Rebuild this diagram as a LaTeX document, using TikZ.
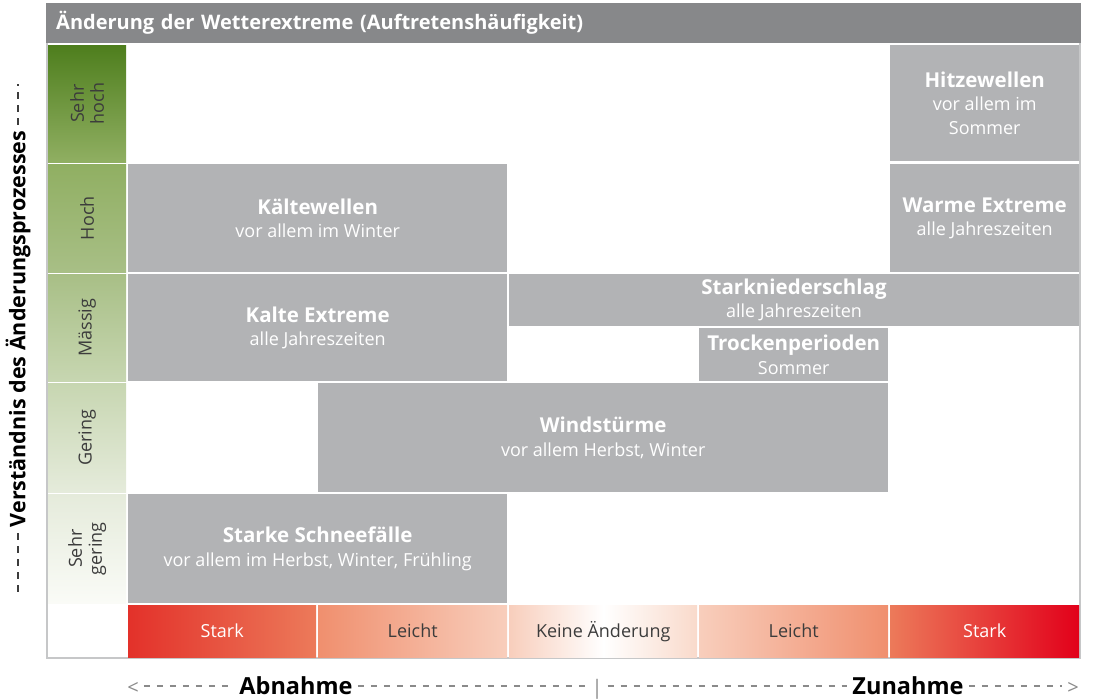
\documentclass[tikz,border=0pt]{standalone}
\usepackage{fontspec}
\setmainfont{Open Sans}
\usepackage{tikz}
\usetikzlibrary{calc}
\definecolor{boxgray}{HTML}{B2B3B5}
\definecolor{titlegray}{HTML}{87888A}
\definecolor{framegray}{HTML}{C6C7C8}
\definecolor{dashgray}{HTML}{8A8A8A}
\definecolor{labeltext}{HTML}{3C3C3C}
\definecolor{redfull}{HTML}{E3312A}
\definecolor{redend}{HTML}{E2001A}
\definecolor{salmon}{HTML}{EC7A5A}
\definecolor{salmonlight}{HTML}{F08F6E}
\definecolor{peach}{HTML}{F8CEBC}
\definecolor{peachlight}{HTML}{F9DACB}
\definecolor{greenA}{HTML}{4E7E1D}
\definecolor{greenB}{HTML}{90AF62}
\definecolor{greenC}{HTML}{A8BF86}
\definecolor{greenD}{HTML}{C7D6B1}
\definecolor{greenE}{HTML}{E5EBDB}
\definecolor{greenF}{HTML}{FAFBF7}
\tikzstyle{event}    = [rectangle, fill=boxgray, anchor=north west, inner sep=0pt, align=center, text=white, font=\fontsize{18}{23.5}\selectfont]
\tikzstyle{level}    = [rectangle, anchor=north west, inner sep=0pt, minimum width=78pt]
\tikzstyle{dashline} = [draw=dashgray, line width=1.4pt, dash pattern=on 6.5pt off 6.5pt]
\newcommand{\headline}[1]{{\bfseries\fontsize{20.5}{23.5}\selectfont #1}}

\begin{document}
\begin{tikzpicture}[
    x=1pt, y=-1pt,
    rowlabel/.style={rotate=90, text=labeltext, align=center, font=\fontsize{18}{20}\selectfont},
    scalecell/.style={rectangle, anchor=north west, inner sep=0pt, minimum height=52pt, font=\fontsize{18}{20}\selectfont},
    axis/.style={text=dashgray, inner xsep=5pt, text height=17pt, text depth=1pt, font=\fontsize{20}{22}\selectfont},
    axisword/.style={axis, text=black, font=\bfseries\fontsize{23.5}{26}\selectfont},
  ]
  \useasboundingbox (0,0) rectangle (1099,700);
  % frame and title bar
  \draw[framegray, line width=2pt] (47,4) rectangle (1080,658);
  \node[rectangle, fill=titlegray, anchor=north west, inner xsep=10pt, inner ysep=0pt,
        text width=1015pt, minimum height=40pt, align=left, text=white,
        font=\bfseries\fontsize{20}{22}\selectfont] (title) at (46,3)
        {Änderung der Wetterextreme (Auftretenshäufigkeit)};

  % understanding levels
  \node[level, top color=greenA, bottom color=greenB, minimum height=117pt] (sehrhoch) at (48,45) {};
  \node[level, top color=greenB, bottom color=greenC, minimum height=108pt] (hoch) at (48,164) {};
  \node[level, top color=greenC, bottom color=greenD, minimum height=107pt] (maessig) at (48,274) {};
  \node[level, top color=greenD, bottom color=greenE, minimum height=109pt] (gering) at (48,383) {};
  \node[level, top color=greenE, bottom color=greenF, minimum height=109pt] (sehrgering) at (48,494) {};
  \node[rowlabel] at (sehrhoch.center) {Sehr\\hoch};
  \node[rowlabel] at (hoch.center) {Hoch};
  \node[rowlabel] at (maessig.center) {Mässig};
  \node[rowlabel] at (gering.center) {Gering};
  \node[rowlabel] at (sehrgering.center) {Sehr\\gering};

  % weather extremes
  \node[event, minimum width=189pt, minimum height=116pt] (hitze) at (890,45)
    {\headline{Hitzewellen}\\vor allem im\\Sommer};
  \node[event, minimum width=189pt, minimum height=108pt] (warm) at (890,164)
    {\headline{Warme Extreme}\\alle Jahreszeiten};
  \node[event, minimum width=379pt, minimum height=108pt] (kaeltew) at (128,164)
    {\headline{Kältewellen}\\vor allem im Winter};
  \node[event, minimum width=379pt, minimum height=107pt] (kalt) at (128,274)
    {\headline{Kalte Extreme}\\alle Jahreszeiten};
  \node[event, minimum width=570pt, minimum height=52pt] (niederschlag) at (509,274) {};
  \node[event, anchor=center] at (794,300)
    {\headline{Starkniederschlag}\\alle Jahreszeiten};
  \node[event, minimum width=189pt, minimum height=53pt] (trocken) at (699,328)
    {\headline{Trockenperioden}\\Sommer};
  \node[event, minimum width=570pt, minimum height=109pt] (wind) at (318,383)
    {\headline{Windstürme}\\vor allem Herbst, Winter};
  \node[event, minimum width=379pt, minimum height=109pt] (schnee) at (128,494)
    {\headline{Starke Schneefälle}\\vor allem im Herbst, Winter, Frühling};

  % change scale
  \node[scalecell, minimum width=188pt, left color=redfull, right color=salmon, text=white] (abstark) at (128,605) {Stark};
  \node[scalecell, minimum width=189pt, left color=salmonlight, right color=peach, text=labeltext] (ableicht) at (318,605) {Leicht};
  \node[scalecell, minimum width=188pt, left color=peach, right color=peachlight, middle color=white, text=labeltext] (keine) at (509,605) {Keine Änderung};
  \node[scalecell, minimum width=189pt, left color=peach, right color=salmonlight, text=labeltext] (zuleicht) at (699,605) {Leicht};
  \node[scalecell, minimum width=189pt, left color=salmon, right color=redend, text=white] (zustark) at (890,605) {Stark};

  % axis captions
  \node[axis] (lt) at (133,686) {<};
  \node[axisword] (abnahme) at (296,686) {Abnahme};
  \node[axis] (mitte) at (597,686) {|};
  \node[axisword] (zunahme) at (908,686) {Zunahme};
  \node[axis] (gt) at (1073,686) {>};
  \draw[dashline] (lt) -- (abnahme);
  \draw[dashline] (abnahme) -- (mitte);
  \draw[dashline] (mitte) -- (zunahme);
  \draw[dashline] (zunahme) -- (gt);

  \node[rotate=90, inner sep=6pt, font=\bfseries\fontsize{21.5}{23}\selectfont] (verstaendnis) at (18,329)
    {Verständnis des Änderungsprozesses};
  \coordinate (vunten) at (18,594);
  \coordinate (voben) at (18,84);
  \draw[dashline, draw=labeltext] (verstaendnis.west) -- (vunten);
  \draw[dashline, draw=labeltext] (verstaendnis.east) -- (voben);
\end{tikzpicture}
\end{document}
